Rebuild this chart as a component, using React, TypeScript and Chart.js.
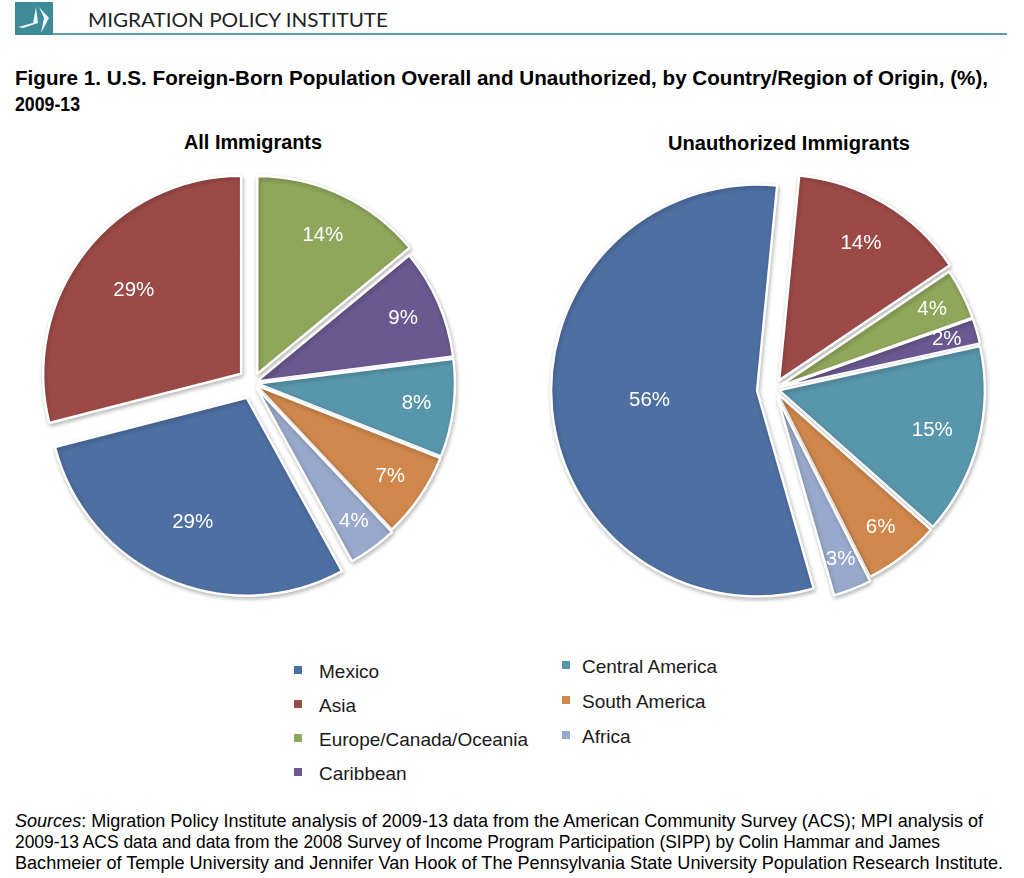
import React, { useEffect, useLayoutEffect, useRef } from "react";
import { Chart, registerables } from "chart.js";

Chart.register(...registerables);

// ---------------- data ----------------
const categories = [
  "Mexico",
  "Asia",
  "Europe/Canada/Oceania",
  "Caribbean",
  "Central America",
  "South America",
  "Africa",
];
const allImmigrants = [29, 29, 14, 9, 8, 7, 4];
const unauthorizedImmigrants = [56, 14, 4, 2, 15, 6, 3];

// ---------------- styles ----------------
const sliceColors = ["#4E6FA2", "#9C4A47", "#8FA65B", "#6A5890", "#5896AB", "#CF874B", "#98A9CB"];
const allExplode = [16, 15, 10, 4, 4, 4, 6];
const unauthExplode = [17, 10, 5, 5, 5, 5, 9];

const SANS = "'Liberation Sans', Arial, Helvetica, sans-serif";

const explodePlugin = {
  id: "explode",
  beforeDatasetDraw(chart: any, args: any, opts: any) {
    const ctx = chart.ctx;
    const amounts: number[] = (opts && opts.amounts) || [];
    ctx.save();
    ctx.shadowColor = "rgba(0,0,0,0.25)";
    ctx.shadowBlur = 4;
    ctx.shadowOffsetX = 1;
    ctx.shadowOffsetY = 2;
    args.meta.data.forEach((el: any, i: number) => {
      const t = amounts[i] || 0;
      const mid = (el.startAngle + el.endAngle) / 2;
      ctx.save();
      ctx.translate(Math.cos(mid) * t, Math.sin(mid) * t);
      el.draw(ctx, chart.chartArea);
      ctx.restore();
    });
    ctx.restore();
    return false;
  },
};

const labelPlugin = {
  id: "pctLabels",
  afterDatasetsDraw(chart: any) {
    const ctx = chart.ctx;
    const meta = chart.getDatasetMeta(0);
    const data = chart.data.datasets[0].data as number[];
    const total = data.reduce((a, b) => a + b, 0);
    const amounts: number[] = chart.options.plugins.explode.amounts || [];
    ctx.save();
    ctx.fillStyle = "#ffffff";
    ctx.font = "20.5px " + SANS;
    ctx.textAlign = "center";
    ctx.textBaseline = "middle";
    meta.data.forEach((el: any, i: number) => {
      const mid = (el.startAngle + el.endAngle) / 2;
      const share = data[i] / total;
      const d = el.outerRadius * (0.86 - 0.6 * share) + (amounts[i] || 0);
      ctx.fillText(data[i] + "%", el.x + Math.cos(mid) * d, el.y + Math.sin(mid) * d);
    });
    ctx.restore();
  },
};

function PieChart(props: {
  values: number[];
  explode: number[];
  rotation: number;
  radius: number;
  cx: number;
  cy: number;
}) {
  const ref = useRef<HTMLCanvasElement>(null);
  const size = 480;
  useEffect(() => {
    const chart = new Chart(ref.current as HTMLCanvasElement, {
      type: "pie",
      data: {
        labels: categories,
        datasets: [
          {
            data: props.values,
            backgroundColor: sliceColors,
            borderColor: "#ffffff",
            borderWidth: 2.5,
          },
        ],
      },
      options: {
        responsive: false,
        animation: false,
        devicePixelRatio: 1,
        rotation: props.rotation,
        radius: props.radius,
        events: [],
        layout: { padding: 0 },
        plugins: {
          legend: { display: false },
          tooltip: { enabled: false },
          explode: { amounts: props.explode },
        } as any,
      },
      plugins: [explodePlugin, labelPlugin],
    } as any);
    return () => chart.destroy();
  }, []);
  return (
    <canvas
      ref={ref}
      width={size}
      height={size}
      style={{
        position: "absolute",
        left: props.cx - size / 2,
        top: props.cy - size / 2,
        width: size,
        height: size,
      }}
    />
  );
}

function FitText(props: {
  left: number;
  top: number;
  width: number;
  style: React.CSSProperties;
  children: React.ReactNode;
}) {
  const ref = useRef<HTMLSpanElement>(null);
  useLayoutEffect(() => {
    const el = ref.current as HTMLSpanElement;
    el.style.transform = "none";
    const w = el.getBoundingClientRect().width;
    if (w > 0) el.style.transform = `scaleX(${props.width / w})`;
  }, []);
  return (
    <div style={{ position: "absolute", left: props.left, top: props.top, whiteSpace: "nowrap" }}>
      <span
        ref={ref}
        style={{ display: "inline-block", whiteSpace: "nowrap", transformOrigin: "left top", ...props.style }}
      >
        {props.children}
      </span>
    </div>
  );
}

function Legend() {
  const col1 = categories.slice(0, 4);
  const col2 = categories.slice(4);
  const item = (name: string, idx: number, left: number, top: number, gap: number) => (
    <div key={name} style={{ position: "absolute", left, top, height: 19 }}>
      <div
        style={{
          position: "absolute",
          left: 0,
          top: 4,
          width: 8,
          height: 8,
          background: sliceColors[idx],
        }}
      />
      <div
        style={{
          position: "absolute",
          left: gap,
          top: 0,
          fontFamily: SANS,
          fontSize: 19,
          lineHeight: "19px",
          color: "#1a1a1a",
          whiteSpace: "nowrap",
        }}
      >
        {name}
      </div>
    </div>
  );
  return (
    <>
      {col1.map((n, i) => item(n, i, 294, 662 + i * 34, 25))}
      {col2.map((n, i) => item(n, i + 4, 562, 657 + i * 35, 20))}
    </>
  );
}

export default function App() {
  const titleStyle: React.CSSProperties = {
    fontFamily: SANS,
    fontWeight: "bold",
    fontSize: 21,
    lineHeight: "21px",
    color: "#000",
  };
  const subStyle: React.CSSProperties = {
    fontFamily: SANS,
    fontWeight: "bold",
    fontSize: 20,
    lineHeight: "20px",
    color: "#000",
  };
  const srcStyle: React.CSSProperties = {
    fontFamily: SANS,
    fontSize: 19,
    lineHeight: "21px",
    color: "#000",
  };
  return (
    <div
      style={{
        position: "absolute",
        left: 0,
        top: 0,
        width: 1024,
        height: 878,
        background: "#ffffff",
        overflow: "hidden",
      }}
    >
      {/* logo */}
      <svg
        width={38}
        height={33}
        viewBox="0 0 38 33"
        style={{ position: "absolute", left: 15, top: 2 }}
      >
        <rect x={0} y={0} width={38} height={33} fill="#3E8B98" />
        <polygon points="3,25 18,21 21,5 23,21 8,26" fill="#ffffff" opacity={0.92} />
        <polygon points="24,5 34,16 26,31 29,16" fill="#ffffff" opacity={0.92} />
      </svg>
      <div
        style={{
          position: "absolute",
          left: 53,
          top: 33,
          width: 954,
          height: 2,
          background: "#5E9DA9",
        }}
      />
      <FitText
        left={88}
        top={10}
        width={300}
        style={{ fontFamily: "Lato, 'Open Sans', sans-serif", fontSize: 19.5, lineHeight: "19.5px", color: "#222" }}
      >
        MIGRATION POLICY INSTITUTE
      </FitText>

      {/* title */}
      <FitText left={15} top={67} width={973} style={titleStyle}>
        Figure 1. U.S. Foreign-Born Population Overall and Unauthorized, by Country/Region of Origin, (%),
      </FitText>
      <FitText left={15} top={93} width={65} style={titleStyle}>
        2009-13
      </FitText>

      {/* sub titles */}
      <FitText left={184} top={132} width={138} style={subStyle}>
        All Immigrants
      </FitText>
      <FitText left={668} top={133} width={242} style={subStyle}>
        Unauthorized Immigrants
      </FitText>

      <PieChart values={allImmigrants} explode={allExplode} rotation={151.2} radius={198} cx={253} cy={383} />
      <PieChart
        values={unauthorizedImmigrants}
        explode={unauthExplode}
        rotation={164}
        radius={206}
        cx={774}
        cy={389}
      />

      <Legend />

      {/* sources */}
      <FitText left={15} top={810} width={968} style={srcStyle}>
        <i>Sources</i>: Migration Policy Institute analysis of 2009-13 data from the American Community Survey (ACS); MPI analysis of
      </FitText>
      <FitText left={15} top={831} width={925} style={srcStyle}>
        2009-13 ACS data and data from the 2008 Survey of Income Program Participation (SIPP) by Colin Hammar and James
      </FitText>
      <FitText left={15} top={852} width={988} style={srcStyle}>
        Bachmeier of Temple University and Jennifer Van Hook of The Pennsylvania State University Population Research Institute.
      </FitText>
    </div>
  );
}
